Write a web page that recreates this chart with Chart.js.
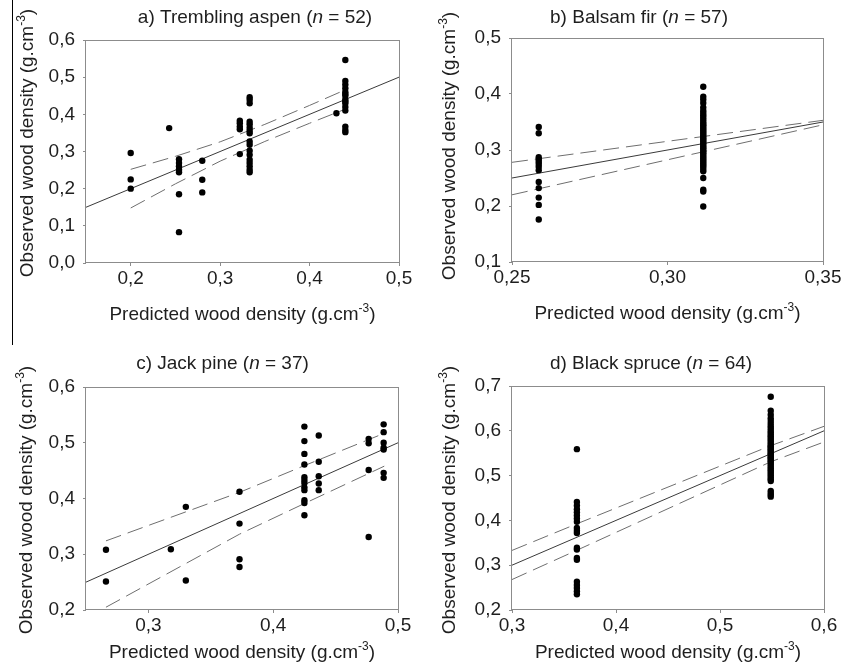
<!DOCTYPE html>
<html>
<head>
<meta charset="utf-8">
<script src="https://cdn.jsdelivr.net/npm/chart.js@4.4.1/dist/chart.umd.min.js"></script>
<style>
    body { margin: 0; background: #fff; }
    #wrap { position: relative; width: 843px; height: 672px; overflow: hidden; }
    #wrap canvas { position: absolute; }
    #edge { position: absolute; left: 12px; top: 0; height: 345px; border-left: 1px solid #000; }
</style>
</head>
<body>
<div id="wrap">
    <div id="edge"></div>
    <canvas id="chartA" width="420" height="336" style="left:0;top:0"></canvas>
    <canvas id="chartB" width="423" height="336" style="left:420px;top:0"></canvas>
    <canvas id="chartC" width="420" height="342" style="left:0;top:330px"></canvas>
    <canvas id="chartD" width="423" height="342" style="left:420px;top:330px"></canvas>
</div>
<script>
// a) Trembling aspen
const aspenPred = [0.2, 0.243, 0.254, 0.28, 0.322, 0.333, 0.43, 0.44];
const aspenObs = [
    [0.296, 0.225, 0.200],
    [0.363],
    [0.279, 0.269, 0.260, 0.251, 0.244, 0.185, 0.083],
    [0.275, 0.224, 0.190],
    [0.383, 0.376, 0.367, 0.360, 0.293],
    [0.446, 0.439, 0.430, 0.380, 0.373, 0.364, 0.356, 0.349, 0.327, 0.318, 0.302, 0.291, 0.278, 0.269, 0.260, 0.251, 0.244],
    [0.403],
    [0.546, 0.490, 0.480, 0.470, 0.460, 0.455, 0.450, 0.440, 0.435, 0.430, 0.420, 0.410, 0.367, 0.358, 0.352],
];
const aspenFitX = [0.15, 0.5];
const aspenFitY = [0.15, 0.5];
const aspenCiX = [0.2, 0.25, 0.3, 0.35, 0.4, 0.44];
const aspenCiUp = [0.252, 0.287, 0.326, 0.373, 0.424, 0.466];
const aspenCiLo = [0.148, 0.213, 0.274, 0.327, 0.376, 0.414];
const aspenXTicks = [0.2, 0.3, 0.4, 0.5];
const aspenYTicks = [0, 0.1, 0.2, 0.3, 0.4, 0.5, 0.6];

// b) Balsam fir
const firPred = [0.2586, 0.3115];
const firObs = [
    [0.341, 0.330, 0.287, 0.283, 0.279, 0.275, 0.270, 0.264, 0.243, 0.232, 0.215, 0.202, 0.176],
    [0.413, 0.395, 0.390, 0.384, 0.376, 0.370, 0.366, 0.362, 0.358, 0.354, 0.350, 0.347, 0.344, 0.341,
     0.338, 0.335, 0.332, 0.329, 0.326, 0.323, 0.320, 0.318, 0.315, 0.312, 0.309, 0.306, 0.303, 0.300,
     0.297, 0.294, 0.291, 0.288, 0.285, 0.282, 0.279, 0.276, 0.273, 0.270, 0.266, 0.262, 0.250, 0.229,
     0.226, 0.199],
];
const firFitX = [0.25, 0.35];
const firFitY = [0.25, 0.35];
const firCiX = [0.25, 0.35];
const firCiUp = [0.278, 0.353];
const firCiLo = [0.220, 0.345];
const firXTicks = [0.25, 0.30, 0.35];
const firYTicks = [0.1, 0.2, 0.3, 0.4, 0.5];

// c) Jack pine
const pinePred = [0.266, 0.318, 0.330, 0.373, 0.425, 0.4365, 0.4765, 0.4885];
const pineObs = [
    [0.308, 0.251],
    [0.309],
    [0.385, 0.253],
    [0.412, 0.355, 0.291, 0.277],
    [0.529, 0.503, 0.480, 0.461, 0.438, 0.433, 0.428, 0.420, 0.415, 0.397, 0.392, 0.370],
    [0.513, 0.466, 0.440, 0.427, 0.415],
    [0.507, 0.499, 0.451, 0.331],
    [0.533, 0.519, 0.500, 0.491, 0.488, 0.446, 0.437],
];
const pineFitX = [0.25, 0.5];
const pineFitY = [0.25, 0.5];
const pineCiX = [0.266, 0.373, 0.425, 0.489];
const pineCiUp = [0.324, 0.411, 0.459, 0.517];
const pineCiLo = [0.205, 0.336, 0.391, 0.458];
const pineXTicks = [0.3, 0.4, 0.5];
const pineYTicks = [0.2, 0.3, 0.4, 0.5, 0.6];

// d) Black spruce
const sprucePred = [0.3624, 0.5488];
const spruceObs = [
    [0.559, 0.441, 0.433, 0.425, 0.418, 0.411, 0.404, 0.397, 0.383, 0.377, 0.372, 0.339, 0.335, 0.316,
     0.312, 0.263, 0.256, 0.249, 0.242, 0.235],
    [0.676, 0.645, 0.636, 0.628, 0.622, 0.616, 0.610, 0.605, 0.600, 0.596, 0.592, 0.588, 0.584, 0.580,
     0.576, 0.572, 0.568, 0.565, 0.562, 0.559, 0.556, 0.553, 0.550, 0.547, 0.544, 0.541, 0.538, 0.535,
     0.532, 0.528, 0.524, 0.520, 0.516, 0.512, 0.508, 0.504, 0.500, 0.496, 0.492, 0.488, 0.466, 0.461,
     0.457, 0.453],
];
const spruceFitX = [0.3, 0.6];
const spruceFitY = [0.3, 0.6];
const spruceCiX = [0.3, 0.362, 0.549, 0.6];
const spruceCiUp = [0.333, 0.392, 0.567, 0.610];
const spruceCiLo = [0.268, 0.333, 0.531, 0.575];
const spruceXTicks = [0.3, 0.4, 0.5, 0.6];
const spruceYTicks = [0.2, 0.3, 0.4, 0.5, 0.6, 0.7];

const FONT = '"Liberation Sans", Arial, sans-serif';
const AXIS_GREY = '#8c8c8c';
const TEXT = '#1e1e1e';

const xTitle = [{ text: 'Predicted wood density (g.cm' }, { text: '-3', sup: true }, { text: ')' }];
const yTitle = [{ text: 'Observed wood density (g.cm' }, { text: '-3', sup: true }, { text: ')' }];

const drawRich = (ctx, parts, cx, baseline) => {
    const fontOf = (p) => (p.italic ? 'italic ' : '') + (p.sup ? 12 : 19) + 'px ' + FONT;
    let total = 0;
    const widths = parts.map((p) => {
        ctx.font = fontOf(p);
        const w = ctx.measureText(p.text).width;
        total += w;
        return w;
    });
    let x = cx - total / 2;
    ctx.textBaseline = 'alphabetic';
    ctx.textAlign = 'left';
    parts.forEach((p, i) => {
        ctx.font = fontOf(p);
        ctx.fillText(p.text, x, baseline - (p.sup ? 8 : 0));
        x += widths[i];
    });
};

const decor = {
    id: 'decor',
    beforeDatasetsDraw(chart) {
        const { left, top, right, bottom } = chart.chartArea;
        const ctx = chart.ctx;
        ctx.save();
        ctx.strokeStyle = AXIS_GREY;
        ctx.lineWidth = 1;
        ctx.strokeRect(Math.round(left) - 0.5, Math.round(top) + 0.5,
            Math.round(right - left) + 1, Math.round(bottom - top) - 1);
        ctx.restore();
    },
    afterDraw(chart, args, opts) {
        const ctx = chart.ctx;
        ctx.save();
        ctx.fillStyle = TEXT;
        drawRich(ctx, opts.title, opts.titlePos[0], opts.titlePos[1]);
        drawRich(ctx, xTitle, opts.xTitlePos[0], opts.xTitlePos[1]);
        ctx.translate(opts.yTitlePos[0], opts.yTitlePos[1]);
        ctx.rotate(-Math.PI / 2);
        drawRich(ctx, yTitle, 0, 0);
        ctx.restore();
    },
};

const makeAxis = (min, max, ticks, decimals, size, horizontal) => ({
    type: 'linear',
    min,
    max,
    afterBuildTicks(scale) {
        scale.ticks = ticks.map((v) => ({ value: v }));
    },
    afterFit(scale) {
        if (horizontal) {
            scale.height = size;
        } else {
            scale.width = size;
        }
        scale.paddingLeft = 0;
        scale.paddingRight = 0;
        scale.paddingTop = 0;
        scale.paddingBottom = 0;
    },
    grid: { drawOnChartArea: false, drawTicks: true, tickLength: 3, color: AXIS_GREY },
    border: { display: false },
    ticks: {
        color: TEXT,
        font: { family: FONT, size: 19 },
        padding: horizontal ? 1 : 8,
        autoSkip: false,
        maxRotation: 0,
        callback: (v) => Number(v).toFixed(decimals).replace('.', ','),
    },
});

const toPoints = (xs, ys) => xs.map((x, i) => ({ x, y: ys[i] }));

const makePanel = (id, s) => {
    const canvas = document.getElementById(id);
    const points = [];
    s.pred.forEach((p, i) => s.obs[i].forEach((o) => points.push({ x: p, y: o })));

    new Chart(canvas, {
        type: 'scatter',
        data: {
            datasets: [
                { data: points, pointRadius: 3.2, pointBackgroundColor: '#000', pointBorderWidth: 0 },
                { data: toPoints(s.fitX, s.fitY), showLine: true, pointRadius: 0, borderColor: '#3a3a3a', borderWidth: 1 },
                { data: toPoints(s.ciX, s.ciUp), showLine: true, pointRadius: 0, borderColor: '#6e6e6e', borderWidth: 1, borderDash: [16, 7] },
                { data: toPoints(s.ciX, s.ciLo), showLine: true, pointRadius: 0, borderColor: '#6e6e6e', borderWidth: 1, borderDash: [16, 7] },
            ],
        },
        options: {
            responsive: false,
            animation: false,
            events: [],
            layout: {
                padding: { left: 0, top: s.area[1], right: canvas.width - s.area[2], bottom: 0 },
            },
            scales: {
                x: makeAxis(s.xRange[0], s.xRange[1], s.xTicks, s.xDec, canvas.height - s.area[3], true),
                y: makeAxis(s.yRange[0], s.yRange[1], s.yTicks, 1, s.area[0], false),
            },
            plugins: {
                legend: { display: false },
                tooltip: { enabled: false },
                decor: { title: s.title, titlePos: s.titlePos, xTitlePos: s.xTitlePos, yTitlePos: s.yTitlePos },
            },
        },
        plugins: [decor],
    });
};

makePanel('chartA', {
    pred: aspenPred, obs: aspenObs, fitX: aspenFitX, fitY: aspenFitY,
    ciX: aspenCiX, ciUp: aspenCiUp, ciLo: aspenCiLo,
    xTicks: aspenXTicks, yTicks: aspenYTicks, xRange: [0.15, 0.5], yRange: [0, 0.6], xDec: 1,
    title: [{ text: 'a) Trembling aspen (' }, { text: 'n', italic: true }, { text: ' = 52)' }],
    area: [86, 40, 399, 263], titlePos: [255, 23], xTitlePos: [242.5, 320], yTitlePos: [33, 143],
});

makePanel('chartB', {
    pred: firPred, obs: firObs, fitX: firFitX, fitY: firFitY,
    ciX: firCiX, ciUp: firCiUp, ciLo: firCiLo,
    xTicks: firXTicks, yTicks: firYTicks, xRange: [0.25, 0.35], yRange: [0.1, 0.5], xDec: 2,
    title: [{ text: 'b) Balsam fir (' }, { text: 'n', italic: true }, { text: ' = 57)' }],
    area: [92, 38, 403, 262], titlePos: [219, 23], xTitlePos: [247.5, 319], yTitlePos: [35, 146],
});

makePanel('chartC', {
    pred: pinePred, obs: pineObs, fitX: pineFitX, fitY: pineFitY,
    ciX: pineCiX, ciUp: pineCiUp, ciLo: pineCiLo,
    xTicks: pineXTicks, yTicks: pineYTicks, xRange: [0.25, 0.5], yRange: [0.2, 0.6], xDec: 1,
    title: [{ text: 'c) Jack pine (' }, { text: 'n', italic: true }, { text: ' = 37)' }],
    area: [86, 57, 398, 280], titlePos: [222.5, 39], xTitlePos: [242, 328], yTitlePos: [32, 170],
});

makePanel('chartD', {
    pred: sprucePred, obs: spruceObs, fitX: spruceFitX, fitY: spruceFitY,
    ciX: spruceCiX, ciUp: spruceCiUp, ciLo: spruceCiLo,
    xTicks: spruceXTicks, yTicks: spruceYTicks, xRange: [0.3, 0.6], yRange: [0.2, 0.7], xDec: 1,
    title: [{ text: 'd) Black spruce (' }, { text: 'n', italic: true }, { text: ' = 64)' }],
    area: [92, 56, 404, 280], titlePos: [231, 39], xTitlePos: [248, 328], yTitlePos: [35, 170],
});
</script>
</body>
</html>
